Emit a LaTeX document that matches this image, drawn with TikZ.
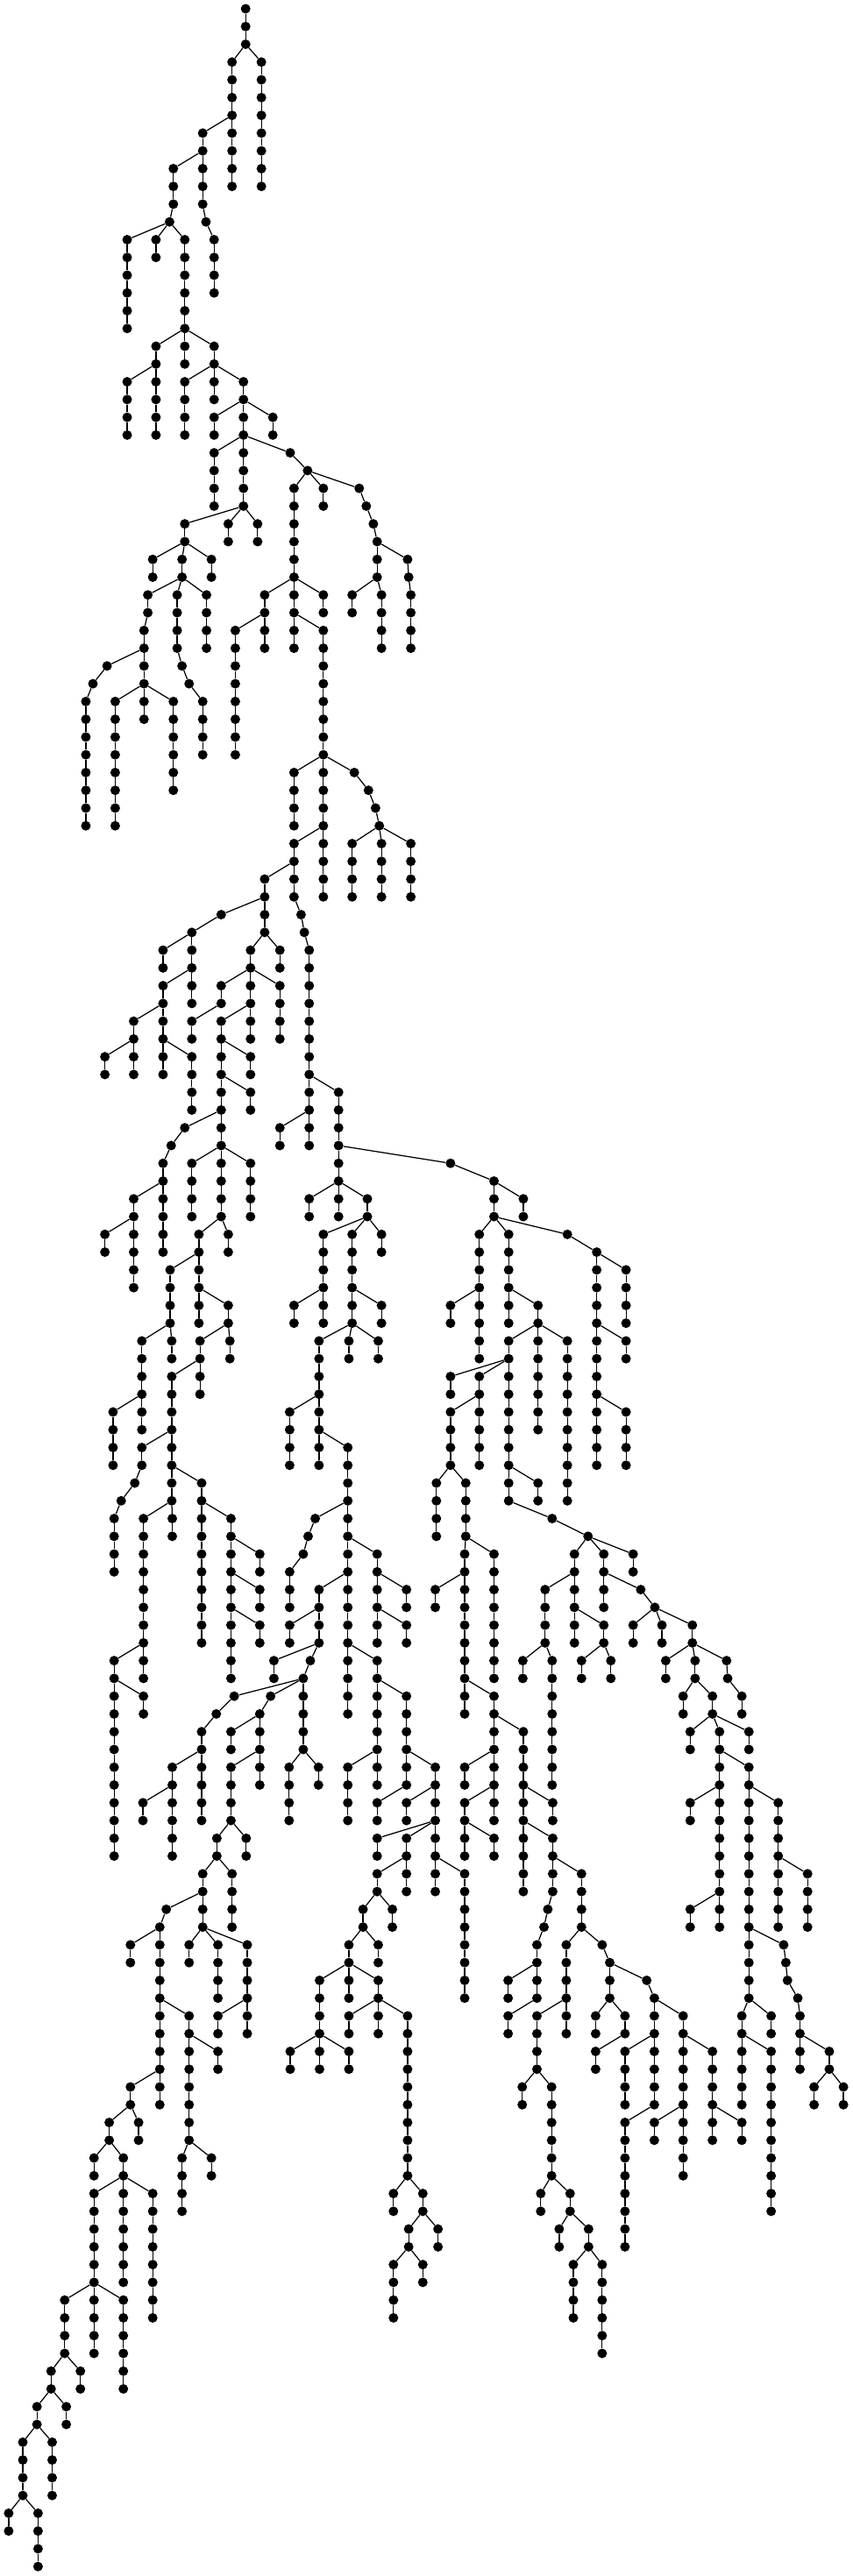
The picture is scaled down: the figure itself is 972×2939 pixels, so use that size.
\documentclass[tikz,border=0pt]{standalone}
\tikzset{v/.style={circle,fill=black,draw=none,inner sep=0pt,minimum size=11pt},e/.style={draw=black,line width=1.25pt}}
\newcommand\E[4]{%
  \pgfmathtruncatemacro\rs{#2+1}%
  \foreach \r in {\rs,...,#4}{%
    \pgfmathtruncatemacro\q{\r-1}%
    \ifnum\r=\rs\relax\gdef\pp{#1}\else\gdef\pp{#3}\fi
    \node[v] (n#3-\r) at (#3,\r) {};
    \draw[e] (n\pp-\q) -- (n#3-\r);
  }%
}
\begin{document}
\begin{tikzpicture}[x=0.6199pt,y=-20.265pt]
\useasboundingbox (0pt,10pt) rectangle (972pt,-2929pt);
\node[v] (n452-0) at (452,0) {};
\E{452}{0}{452}{2}
\E{452}{2}{481}{10}
\E{452}{2}{427}{10}
\E{427}{6}{373}{8}
\E{373}{8}{373}{11}
\E{373}{11}{379}{12}
\E{379}{12}{394}{16}
\E{373}{8}{319}{11}
\E{319}{11}{312}{12}
\E{312}{12}{234}{18}
\E{312}{12}{287}{14}
\E{312}{12}{340}{18}
\E{340}{18}{287}{20}
\E{287}{20}{234}{24}
\E{287}{20}{287}{24}
\E{340}{18}{340}{20}
\E{340}{18}{394}{20}
\E{394}{20}{340}{24}
\E{394}{20}{394}{22}
\E{394}{20}{448}{22}
\E{448}{22}{394}{24}
\E{448}{22}{448}{24}
\E{448}{22}{502}{24}
\E{448}{24}{394}{28}
\E{448}{24}{448}{28}
\E{448}{24}{534}{25}
\E{534}{25}{566}{26}
\E{566}{26}{541}{32}
\E{566}{26}{595}{28}
\E{566}{26}{661}{27}
\E{661}{27}{674}{28}
\E{674}{28}{687}{29}
\E{687}{29}{694}{30}
\E{694}{30}{694}{32}
\E{694}{30}{750}{31}
\E{750}{31}{752}{32}
\E{752}{32}{756}{36}
\E{694}{32}{648}{34}
\E{694}{32}{702}{36}
\E{448}{28}{340}{30}
\E{448}{28}{420}{30}
\E{448}{28}{474}{30}
\E{340}{30}{281}{32}
\E{340}{30}{335}{32}
\E{340}{30}{389}{32}
\E{335}{32}{272}{34}
\E{272}{34}{265}{36}
\E{335}{32}{326}{36}
\E{326}{36}{335}{37}
\E{335}{37}{348}{38}
\E{348}{38}{373}{42}
\E{335}{32}{380}{36}
\E{265}{36}{197}{37}
\E{197}{37}{171}{38}
\E{171}{38}{158}{46}
\E{265}{36}{265}{38}
\E{265}{38}{212}{46}
\E{265}{38}{265}{40}
\E{265}{38}{319}{44}
\E{541}{32}{487}{34}
\E{487}{34}{433}{42}
\E{487}{34}{487}{36}
\E{541}{32}{541}{34}
\E{541}{34}{541}{36}
\E{541}{34}{595}{42}
\E{541}{32}{595}{34}
\E{595}{42}{541}{46}
\E{595}{42}{595}{46}
\E{595}{42}{652}{43}
\E{652}{43}{678}{44}
\E{678}{44}{691}{45}
\E{691}{45}{698}{46}
\E{595}{46}{541}{48}
\E{595}{46}{595}{50}
\E{698}{46}{648}{50}
\E{698}{46}{702}{50}
\E{698}{46}{756}{50}
\E{541}{48}{487}{50}
\E{541}{48}{541}{50}
\E{541}{50}{554}{51}
\E{554}{51}{560}{52}
\E{560}{52}{569}{60}
\E{487}{50}{407}{51}
\E{407}{51}{353}{52}
\E{353}{52}{300}{54}
\E{353}{52}{353}{54}
\E{353}{54}{300}{56}
\E{353}{54}{353}{56}
\E{300}{56}{246}{58}
\E{246}{58}{193}{60}
\E{246}{58}{246}{60}
\E{300}{56}{300}{58}
\E{300}{58}{300}{60}
\E{300}{58}{353}{62}
\E{487}{50}{487}{52}
\E{487}{52}{461}{54}
\E{487}{52}{515}{54}
\E{461}{54}{407}{56}
\E{461}{54}{461}{56}
\E{461}{54}{515}{58}
\E{407}{56}{353}{58}
\E{461}{56}{407}{58}
\E{461}{56}{461}{58}
\E{407}{58}{407}{60}
\E{407}{58}{461}{60}
\E{407}{60}{407}{62}
\E{407}{60}{461}{62}
\E{407}{62}{340}{63}
\E{340}{63}{315}{64}
\E{315}{64}{300}{66}
\E{300}{66}{246}{68}
\E{246}{68}{193}{70}
\E{246}{68}{246}{72}
\E{300}{66}{300}{70}
\E{407}{62}{407}{64}
\E{407}{64}{353}{68}
\E{407}{64}{407}{68}
\E{407}{64}{461}{68}
\E{407}{68}{366}{70}
\E{407}{68}{420}{70}
\E{366}{70}{313}{74}
\E{366}{70}{366}{72}
\E{366}{72}{366}{74}
\E{366}{72}{420}{74}
\E{313}{74}{261}{78}
\E{313}{74}{316}{76}
\E{420}{74}{368}{76}
\E{420}{74}{423}{76}
\E{368}{76}{316}{80}
\E{368}{76}{368}{78}
\E{261}{78}{208}{82}
\E{261}{78}{261}{80}
\E{316}{80}{261}{82}
\E{261}{82}{248}{83}
\E{248}{83}{223}{84}
\E{223}{84}{210}{88}
\E{316}{80}{316}{84}
\E{316}{82}{371}{84}
\E{316}{84}{264}{92}
\E{316}{84}{317}{86}
\E{264}{92}{210}{104}
\E{264}{92}{264}{94}
\E{210}{94}{264}{96}
\E{371}{84}{371}{92}
\E{371}{84}{425}{94}
\E{425}{86}{478}{88}
\E{425}{88}{478}{90}
\E{425}{90}{478}{92}
\E{569}{60}{569}{62}
\E{569}{60}{623}{64}
\E{569}{62}{515}{64}
\E{569}{62}{569}{64}
\E{623}{64}{623}{66}
\E{623}{64}{829}{65}
\E{623}{66}{569}{68}
\E{623}{66}{623}{68}
\E{623}{66}{676}{68}
\E{676}{68}{595}{72}
\E{676}{68}{648}{72}
\E{676}{68}{702}{70}
\E{595}{72}{541}{74}
\E{595}{72}{595}{74}
\E{648}{72}{648}{74}
\E{648}{72}{702}{74}
\E{648}{74}{587}{78}
\E{648}{74}{642}{76}
\E{648}{74}{696}{76}
\E{587}{78}{533}{82}
\E{587}{78}{587}{82}
\E{587}{80}{640}{84}
\E{640}{84}{580}{85}
\E{580}{85}{567}{86}
\E{567}{86}{558}{87}
\E{558}{87}{533}{90}
\E{640}{84}{640}{92}
\E{640}{86}{694}{92}
\E{694}{88}{748}{90}
\E{694}{90}{748}{92}
\E{640}{88}{587}{92}
\E{587}{90}{533}{92}
\E{587}{92}{504}{94}
\E{587}{92}{571}{93}
\E{571}{93}{558}{94}
\E{558}{94}{431}{95}
\E{431}{95}{398}{96}
\E{398}{96}{371}{102}
\E{371}{98}{317}{104}
\E{317}{100}{263}{102}
\E{558}{94}{498}{95}
\E{498}{95}{478}{96}
\E{478}{96}{425}{98}
\E{478}{96}{478}{100}
\E{478}{98}{425}{102}
\E{425}{102}{399}{104}
\E{425}{102}{453}{104}
\E{399}{104}{373}{108}
\E{399}{104}{427}{108}
\E{373}{106}{306}{107}
\E{306}{107}{294}{108}
\E{294}{108}{240}{110}
\E{294}{108}{294}{116}
\E{294}{112}{348}{120}
\E{348}{114}{401}{116}
\E{348}{120}{335}{124}
\E{348}{120}{389}{122}
\E{294}{116}{240}{118}
\E{294}{116}{294}{118}
\E{240}{118}{201}{120}
\E{240}{118}{255}{120}
\E{201}{120}{173}{122}
\E{201}{120}{227}{122}
\E{227}{122}{173}{132}
\E{227}{122}{227}{128}
\E{227}{122}{281}{130}
\E{173}{128}{119}{132}
\E{173}{128}{227}{134}
\E{119}{132}{94}{134}
\E{119}{132}{148}{134}
\E{94}{134}{68}{136}
\E{94}{134}{122}{136}
\E{68}{136}{42}{140}
\E{68}{136}{96}{140}
\E{42}{140}{16}{142}
\E{42}{140}{70}{144}
\E{373}{108}{348}{110}
\E{373}{108}{401}{112}
\E{373}{108}{455}{114}
\E{455}{112}{401}{114}
\E{558}{94}{558}{98}
\E{558}{98}{532}{102}
\E{558}{98}{586}{100}
\E{640}{92}{640}{96}
\E{640}{92}{694}{98}
\E{694}{94}{748}{98}
\E{694}{98}{640}{102}
\E{694}{98}{694}{100}
\E{748}{98}{748}{100}
\E{748}{100}{694}{102}
\E{748}{98}{801}{104}
\E{801}{100}{748}{102}
\E{801}{102}{694}{104}
\E{801}{102}{748}{106}
\E{748}{104}{694}{106}
\E{694}{106}{668}{108}
\E{694}{106}{722}{108}
\E{801}{104}{801}{106}
\E{801}{104}{855}{112}
\E{668}{108}{642}{110}
\E{668}{108}{696}{110}
\E{642}{110}{588}{114}
\E{642}{110}{642}{112}
\E{642}{110}{696}{114}
\E{696}{112}{642}{114}
\E{696}{112}{750}{122}
\E{588}{114}{534}{116}
\E{588}{114}{588}{116}
\E{588}{114}{642}{116}
\E{750}{122}{724}{124}
\E{750}{122}{778}{124}
\E{778}{124}{752}{126}
\E{778}{124}{806}{126}
\E{752}{126}{724}{130}
\E{752}{126}{778}{128}
\E{829}{65}{909}{66}
\E{909}{66}{909}{68}
\E{909}{66}{963}{68}
\E{909}{68}{882}{76}
\E{882}{72}{829}{74}
\E{909}{68}{936}{74}
\E{936}{72}{990}{74}
\E{909}{68}{1044}{69}
\E{1044}{69}{1098}{70}
\E{1098}{70}{1098}{82}
\E{1098}{70}{1152}{74}
\E{1098}{74}{1152}{76}
\E{1098}{78}{1152}{82}
\E{990}{74}{936}{82}
\E{990}{74}{990}{80}
\E{990}{74}{1044}{84}
\E{936}{76}{829}{78}
\E{936}{76}{882}{82}
\E{882}{78}{829}{82}
\E{829}{82}{803}{86}
\E{829}{82}{857}{86}
\E{857}{86}{855}{96}
\E{857}{86}{909}{94}
\E{855}{88}{801}{90}
\E{855}{94}{909}{102}
\E{909}{96}{963}{106}
\E{909}{98}{855}{100}
\E{909}{100}{855}{104}
\E{855}{102}{909}{104}
\E{963}{100}{1017}{102}
\E{963}{102}{1017}{106}
\E{1017}{104}{1070}{108}
\E{1017}{106}{1008}{107}
\E{1008}{107}{1001}{108}
\E{1001}{108}{988}{112}
\E{988}{110}{935}{112}
\E{988}{112}{935}{114}
\E{1070}{108}{1042}{114}
\E{1042}{112}{988}{116}
\E{988}{116}{961}{118}
\E{988}{116}{1015}{122}
\E{1015}{122}{995}{124}
\E{1015}{122}{1049}{124}
\E{1049}{124}{1029}{126}
\E{1049}{124}{1083}{126}
\E{1083}{126}{1055}{130}
\E{1083}{126}{1108}{132}
\E{1070}{108}{1108}{109}
\E{1108}{109}{1122}{110}
\E{1122}{110}{1122}{112}
\E{1122}{112}{1096}{114}
\E{1122}{112}{1150}{114}
\E{1150}{114}{1096}{116}
\E{1122}{110}{1190}{111}
\E{1190}{111}{1204}{118}
\E{1204}{112}{1257}{122}
\E{1204}{114}{1150}{118}
\E{1204}{118}{1150}{126}
\E{1257}{114}{1311}{120}
\E{1311}{118}{1365}{120}
\E{1257}{118}{1204}{120}
\E{936}{82}{936}{84}
\E{936}{82}{990}{84}
\E{936}{84}{1016}{85}
\E{1016}{85}{1082}{86}
\E{1082}{86}{1057}{92}
\E{1057}{88}{1003}{92}
\E{1057}{90}{1111}{92}
\E{1111}{92}{1070}{94}
\E{1111}{92}{1124}{94}
\E{1003}{92}{962}{94}
\E{1003}{92}{1016}{100}
\E{1082}{86}{1111}{90}
\E{1111}{88}{1179}{89}
\E{1179}{89}{1205}{90}
\E{1205}{90}{1165}{92}
\E{1205}{90}{1218}{92}
\E{1205}{90}{1274}{92}
\E{1274}{92}{1225}{94}
\E{1274}{92}{1279}{94}
\E{1274}{92}{1337}{93}
\E{1337}{93}{1339}{94}
\E{1339}{94}{1365}{96}
\E{1279}{94}{1257}{96}
\E{1279}{94}{1311}{96}
\E{1311}{96}{1270}{98}
\E{1311}{96}{1324}{98}
\E{1311}{96}{1378}{98}
\E{1082}{86}{1165}{88}
\E{1324}{98}{1324}{108}
\E{1324}{98}{1378}{112}
\E{1324}{100}{1270}{102}
\E{1324}{106}{1270}{108}
\E{1378}{100}{1432}{108}
\E{1432}{104}{1486}{108}
\E{1378}{108}{1442}{109}
\E{1442}{109}{1446}{110}
\E{1446}{110}{1449}{111}
\E{1449}{111}{1468}{112}
\E{1468}{112}{1472}{116}
\E{1472}{114}{1526}{116}
\E{1526}{116}{1498}{118}
\E{1526}{116}{1552}{118}
\E{1378}{112}{1365}{118}
\E{1378}{112}{1419}{114}
\E{1365}{114}{1419}{124}
\end{tikzpicture}
\end{document}
